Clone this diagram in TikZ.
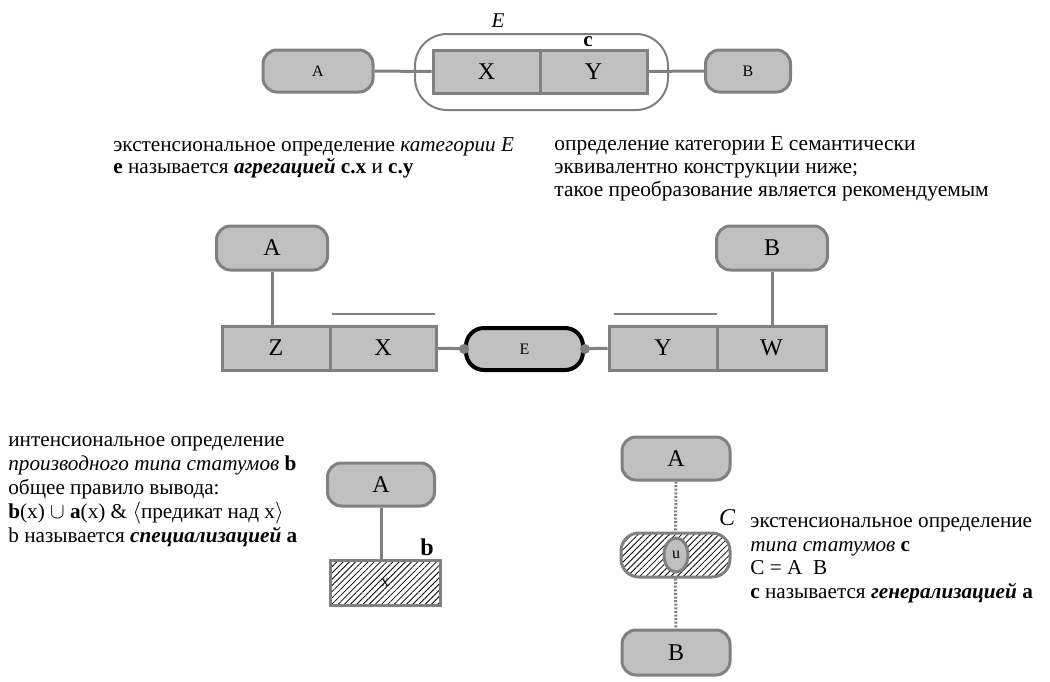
\documentclass[tikz,border=0pt]{standalone}
\usepackage{fontspec}
\setmainfont{Liberation Serif}
\usetikzlibrary{patterns.meta,shapes.geometric}
\definecolor{boxfill}{RGB}{192,192,192}
\definecolor{boxline}{RGB}{128,128,128}
\tikzset{
  ent/.style={draw=boxline, fill=boxfill, line width=1.5pt, rounded corners=7pt,
    inner sep=0pt, font=\fontsize{8}{9}\selectfont},
  cell/.style={draw=boxline, fill=boxfill, line width=1.5pt, inner sep=0pt,
    font=\fontsize{12}{13}\selectfont},
  link/.style={draw=boxline, line width=1.5pt},
  hatch/.style={pattern={Lines[angle=45,distance=2.2pt,line width=0.4pt]}},
  txt/.style={align=left, inner sep=0pt, anchor=base west}
}
\begin{document}
\begin{tikzpicture}[x=0.5pt,y=-0.5pt]
  \useasboundingbox (0,0) rectangle (1050,681);
  % top: aggregation
  \node[draw=boxline, line width=1pt, rounded corners=16pt, minimum width=126.5pt,
    minimum height=38pt] (e1) at (541.5,72) {};
  \node[font=\fontsize{10.5}{11}\selectfont\itshape] (e1l) at (498,21) {E};
  \node[ent, minimum width=55pt, minimum height=21pt] (a1) at (318,71) {A};
  \node[cell, minimum width=53.5pt, minimum height=21.5pt] (x1) at (486.5,71.5) {X};
  \node[cell, minimum width=53.5pt, minimum height=21.5pt] (y1) at (593.5,71.5) {Y};
  \node[font=\fontsize{10.5}{11}\selectfont\bfseries] (c1) at (588,42) {c};
  \node[ent, minimum width=42.5pt, minimum height=21pt] (b1) at (748,71) {B};
  \draw[link] (a1) -- (x1);
  \draw[link] (y1) -- (b1);
  % texts (base = last line)
  \node[txt, font=\fontsize{10.6}{11}\selectfont] (t1) at (113,173)
    {экстенсиональное определение \textit{категории E}\\
     \textbf{e} называется \textbf{\textit{агрегацией}} \textbf{c.x} и \textbf{c.y}};
  \node[txt, font=\fontsize{10.7}{11.4}\selectfont] (t2) at (554,196)
    {определение категории E семантически\\
     эквивалентно конструкции ниже;\\
     такое преобразование является рекомендуемым};
  % middle: equivalent construction
  \node[cell, rounded corners=7pt, minimum width=55.5pt, minimum height=22pt] (a2) at (272,248) {A};
  \node[cell, rounded corners=7pt, minimum width=55.5pt, minimum height=22pt] (b2) at (772,248) {B};
  \node[cell, minimum width=54pt, minimum height=22pt] (z2) at (276,348) {Z};
  \node[cell, minimum width=53pt, minimum height=22pt] (x2) at (383,348) {X};
  \node[draw=black, fill=boxfill, line width=2pt, rounded corners=9pt, inner sep=0pt,
    minimum width=58.5pt, minimum height=21pt, font=\fontsize{8}{9}\selectfont] (e2) at (524.5,349) {E};
  \node[cell, minimum width=54pt, minimum height=22pt] (y2) at (663,348) {Y};
  \node[cell, minimum width=54.5pt, minimum height=22pt] (w2) at (771.5,348) {W};
  \draw[link] (a2.south) -- (a2.south |- z2.north);
  \draw[link] (b2.south) -- (b2.south |- w2.north);
  \draw[link] (x2) -- (e2);
  \draw[link] (e2) -- (y2);
  \fill[boxline] (e2.west) circle (2.5pt) (e2.east) circle (2.5pt);
  \draw[boxline, line width=1pt] ([xshift=1.5pt,yshift=5.5pt]x2.north west)
    -- ([xshift=-1.5pt,yshift=5.5pt]x2.north east);
  \draw[boxline, line width=1pt] ([xshift=3pt,yshift=5.5pt]y2.north west)
    -- ([xshift=-1pt,yshift=5.5pt]y2.north east);
  % bottom left: specialization
  \node[txt, font=\fontsize{10.6}{12}\selectfont] (t3) at (8,542)
    {интенсиональное определение\\
     \textit{производного типа статумов} \textbf{b}\\
     общее правило вывода:\\
     \textbf{b}(x) $\cup$ \textbf{a}(x) \& $\langle$предикат над x$\rangle$\\
     b называется \textbf{\textit{специализацией}} \textbf{a}};
  \node[cell, rounded corners=7pt, minimum width=53.5pt, minimum height=21.5pt] (a3) at (381,484.5) {A};
  \node[draw=boxline, line width=1.5pt, hatch, inner sep=0pt, minimum width=55pt,
    minimum height=22.5pt, font=\fontsize{8}{9}\selectfont] (x3) at (385,582.5) {x};
  \node[font=\fontsize{12}{13}\selectfont\bfseries] (b3) at (427,547) {b};
  \draw[link] (a3.south) -- (a3.south |- x3.north);
  % bottom right: generalization
  \node[cell, rounded corners=7pt, minimum width=54pt, minimum height=21.5pt] (a4) at (676,458.5) {A};
  \node[draw=boxline, line width=1.5pt, hatch, rounded corners=9pt, inner sep=0pt,
    minimum width=54.5pt, minimum height=22pt] (c4) at (675.5,555) {};
  \node[draw=boxline, fill=boxfill, line width=1.5pt, ellipse, inner sep=0pt,
    minimum width=12pt, minimum height=17pt, font=\fontsize{8}{9}\selectfont] (u4) at (676,555) {u};
  \node[font=\fontsize{12}{13}\selectfont\itshape] (c4l) at (727,518) {C};
  \node[cell, rounded corners=7pt, minimum width=54pt, minimum height=22.5pt] (b4) at (676,652.5) {B};
  \draw[link, dash pattern=on 1pt off 0.8pt] (a4.south) -- (c4.north);
  \draw[link, dash pattern=on 1pt off 0.8pt] (c4.south) -- (b4.north);
  \node[txt, font=\fontsize{10.6}{11.75}\selectfont] (t4) at (750,598)
    {экстенсиональное определение\\
     \textit{типа статумов} \textbf{c}\\
     C = A~~B\\
     \textbf{c} называется \textbf{\textit{генерализацией}} \textbf{a}};
\end{tikzpicture}
\end{document}
